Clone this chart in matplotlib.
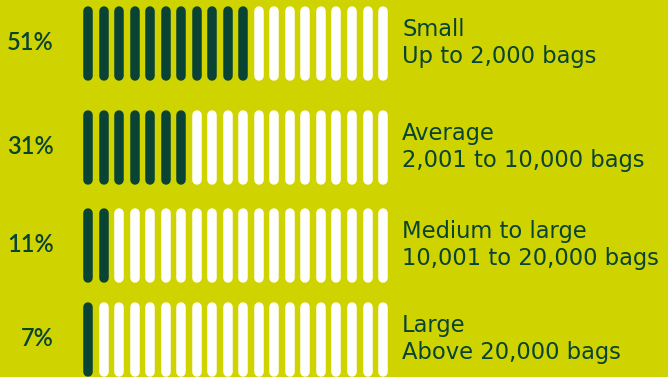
import matplotlib
matplotlib.use("Agg")
import matplotlib.pyplot as plt

# ---- data ----
percents = ["51%", "31%", "11%", "7%"]
filled_bars = [11, 7, 2, 1]
total_bars = 20
titles = ["Small", "Average", "Medium to large", "Large"]
subtitles = ["Up to 2,000 bags", "2,001 to 10,000 bags",
             "10,001 to 20,000 bags", "Above 20,000 bags"]

# ---- style / layout ----
BG = "#cfd300"
DARK = "#084334"
LIGHT = "#ffffff"
W, H = 668, 377
row_centers = [43.5, 147.5, 245.5, 339.5]
bar_x0, bar_pitch = 88, 15.53
bar_half = 37.5 - 4.75
bar_lw_px = 9.5

fig = plt.figure(figsize=(W / 100, H / 100), dpi=100, facecolor=BG)
ax = fig.add_axes([0, 0, 1, 1])
ax.set_facecolor(BG)
ax.set_xlim(0, W)
ax.set_ylim(H, 0)
ax.axis("off")

lw_pt = bar_lw_px * 72 / 100
for r, (cy, nfill) in enumerate(zip(row_centers, filled_bars)):
    for i in range(total_bars):
        x = bar_x0 + i * bar_pitch
        color = DARK if i < nfill else LIGHT
        ax.plot([x, x], [cy - bar_half, cy + bar_half], color=color,
                lw=lw_pt, solid_capstyle="round")
    ax.text(54, cy + 7, percents[r], ha="right", va="baseline",
            fontsize=17, fontfamily="Lato", fontweight="semibold", color=DARK)
    ax.text(402, cy - 7.5, titles[r], ha="left", va="baseline",
            fontsize=16.3, fontfamily="DejaVu Sans", color=DARK)
    ax.text(402, cy + 19.5, subtitles[r], ha="left", va="baseline",
            fontsize=16.3, fontfamily="DejaVu Sans", color=DARK)

fig.savefig("out.png", dpi=100, facecolor=BG)
